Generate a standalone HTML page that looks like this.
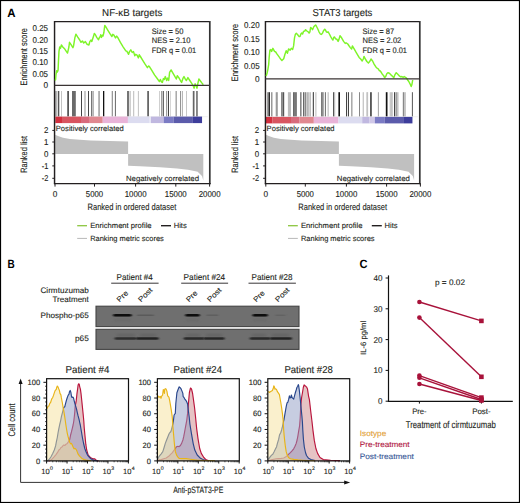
<!DOCTYPE html>
<html><head><meta charset="utf-8"><style>
html,body{margin:0;padding:0;background:#fff;}
body{width:520px;height:503px;overflow:hidden;}
svg{display:block;font-family:"Liberation Sans", sans-serif;}
</style></head><body>
<svg width="520" height="503" viewBox="0 0 520 503" text-rendering="geometricPrecision">
<rect x="0" y="0" width="520" height="503" fill="#fff"/>
<text x="7.30" y="16.90" font-size="12" fill="#000" textLength="8.30" lengthAdjust="spacingAndGlyphs" font-weight="bold">A</text>
<text x="102.10" y="15.50" font-size="10" fill="#231f20" stroke="#231f20" stroke-width="0.12" textLength="60.20" lengthAdjust="spacingAndGlyphs">NF-κB targets</text>
<text x="48.00" y="31.40" font-size="8.5" fill="#231f20" stroke="#231f20" stroke-width="0.12" text-anchor="end" textLength="15.50" lengthAdjust="spacingAndGlyphs">0.25</text>
<text x="48.00" y="42.70" font-size="8.5" fill="#231f20" stroke="#231f20" stroke-width="0.12" text-anchor="end" textLength="15.50" lengthAdjust="spacingAndGlyphs">0.20</text>
<text x="48.00" y="54.10" font-size="8.5" fill="#231f20" stroke="#231f20" stroke-width="0.12" text-anchor="end" textLength="15.50" lengthAdjust="spacingAndGlyphs">0.15</text>
<text x="48.00" y="65.40" font-size="8.5" fill="#231f20" stroke="#231f20" stroke-width="0.12" text-anchor="end" textLength="15.50" lengthAdjust="spacingAndGlyphs">0.10</text>
<text x="48.00" y="76.70" font-size="8.5" fill="#231f20" stroke="#231f20" stroke-width="0.12" text-anchor="end" textLength="15.50" lengthAdjust="spacingAndGlyphs">0.05</text>
<text x="48.00" y="88.20" font-size="8.5" fill="#231f20" stroke="#231f20" stroke-width="0.12" text-anchor="end" textLength="4.60" lengthAdjust="spacingAndGlyphs">0</text>
<rect x="55.30" y="91.00" width="1.40" height="25.70" fill="#9a9a9a"/>
<rect x="57.80" y="91.00" width="1.50" height="25.70" fill="#555"/>
<rect x="61.00" y="91.00" width="0.70" height="25.70" fill="#aaa"/>
<rect x="67.30" y="91.00" width="1.60" height="25.70" fill="#444"/>
<rect x="72.00" y="91.00" width="3.80" height="25.70" fill="#6a6a6a"/>
<rect x="81.00" y="91.00" width="1.00" height="25.70" fill="#444"/>
<rect x="84.20" y="91.00" width="1.60" height="25.70" fill="#bbb"/>
<rect x="88.00" y="91.00" width="1.00" height="25.70" fill="#444"/>
<rect x="91.00" y="91.00" width="1.00" height="25.70" fill="#777"/>
<rect x="92.40" y="91.00" width="1.30" height="25.70" fill="#999"/>
<rect x="98.50" y="91.00" width="1.10" height="25.70" fill="#777"/>
<rect x="103.00" y="91.00" width="1.30" height="25.70" fill="#111"/>
<rect x="111.70" y="91.00" width="1.30" height="25.70" fill="#999"/>
<rect x="114.90" y="91.00" width="1.00" height="25.70" fill="#666"/>
<rect x="127.10" y="91.00" width="1.80" height="25.70" fill="#666"/>
<rect x="129.50" y="91.00" width="1.20" height="25.70" fill="#bbb"/>
<rect x="133.20" y="91.00" width="1.00" height="25.70" fill="#bbb"/>
<rect x="137.90" y="91.00" width="0.90" height="25.70" fill="#bbb"/>
<rect x="147.20" y="91.00" width="1.80" height="25.70" fill="#666"/>
<rect x="159.20" y="91.00" width="0.70" height="25.70" fill="#bbb"/>
<rect x="161.00" y="91.00" width="0.80" height="25.70" fill="#888"/>
<rect x="162.70" y="91.00" width="1.10" height="25.70" fill="#444"/>
<rect x="166.00" y="91.00" width="0.80" height="25.70" fill="#888"/>
<rect x="167.90" y="91.00" width="1.10" height="25.70" fill="#444"/>
<rect x="170.40" y="91.00" width="0.60" height="25.70" fill="#bbb"/>
<rect x="175.60" y="91.00" width="1.10" height="25.70" fill="#888"/>
<rect x="180.00" y="91.00" width="0.90" height="25.70" fill="#888"/>
<rect x="181.90" y="91.00" width="0.80" height="25.70" fill="#999"/>
<rect x="186.20" y="91.00" width="0.80" height="25.70" fill="#bbb"/>
<rect x="192.80" y="91.00" width="1.70" height="25.70" fill="#666"/>
<rect x="196.10" y="91.00" width="1.70" height="25.70" fill="#777"/>
<line x1="54.55" y1="116.70" x2="207.80" y2="116.70" stroke="#e4e4e4" stroke-width="0.6"/>
<rect x="55.30" y="116.60" width="6.75" height="6.50" fill="#d2303e"/>
<rect x="62.00" y="116.60" width="19.05" height="6.50" fill="#d85560"/>
<rect x="81.00" y="116.60" width="8.05" height="6.50" fill="#d86b7c"/>
<rect x="89.00" y="116.60" width="13.75" height="6.50" fill="#e08890"/>
<rect x="102.70" y="116.60" width="25.25" height="6.50" fill="#e8b3d8"/>
<rect x="127.90" y="116.60" width="21.75" height="6.50" fill="#dcdcf0"/>
<rect x="149.60" y="116.60" width="1.45" height="6.50" fill="#e6e6f4"/>
<rect x="151.00" y="116.60" width="12.85" height="6.50" fill="#c0b8e0"/>
<rect x="163.80" y="116.60" width="9.85" height="6.50" fill="#7b7bc4"/>
<rect x="173.60" y="116.60" width="19.25" height="6.50" fill="#5b5bab"/>
<rect x="192.80" y="116.60" width="9.25" height="6.50" fill="#3d3d9b"/>
<polygon points="55.20,153.90 55.20,134.80 58.00,136.00 63.00,137.70 70.00,138.90 80.00,139.80 90.80,140.50 110.00,141.00 128.10,141.40 128.10,153.90" fill="#c0c0c0"/>
<polygon points="128.10,154.00 203.30,154.00 203.30,180.60 202.00,176.00 197.70,171.80 188.00,169.80 177.00,168.40 160.00,167.20 140.00,166.20 128.10,165.80" fill="#c0c0c0"/>
<text x="55.80" y="131.40" font-size="7.6" fill="#231f20" stroke="#231f20" stroke-width="0.12" textLength="68.00" lengthAdjust="spacingAndGlyphs">Positively correlated</text>
<text x="126.00" y="180.60" font-size="7.6" fill="#231f20" stroke="#231f20" stroke-width="0.12" textLength="73.00" lengthAdjust="spacingAndGlyphs">Negatively correlated</text>
<line x1="54.55" y1="21.60" x2="209.80" y2="21.60" stroke="#231f20" stroke-width="1.2"/>
<line x1="54.55" y1="21.00" x2="54.55" y2="184.20" stroke="#231f20" stroke-width="1.45"/>
<line x1="209.80" y1="21.00" x2="209.80" y2="184.20" stroke="#333" stroke-width="1.7"/>
<line x1="53.95" y1="183.60" x2="210.60" y2="183.60" stroke="#231f20" stroke-width="1.3"/>
<polyline points="55.30,80.50 55.60,79.50 56.00,74.70 56.70,70.70 57.40,72.00 58.10,70.00 58.50,60.50 59.00,51.10 59.70,47.00 60.50,48.40 61.40,45.00 62.80,47.00 64.80,49.10 67.50,53.10 68.90,47.00 69.50,42.30 70.90,44.30 72.90,47.70 73.60,45.70 74.90,37.60 75.90,34.20 77.60,36.90 79.70,40.00 81.00,42.30 82.40,40.90 83.70,43.00 85.40,41.60 87.10,44.30 88.90,45.00 89.80,41.60 90.90,40.10 91.80,41.50 92.70,38.80 93.60,36.10 94.30,33.40 95.40,34.80 96.70,37.40 98.50,39.70 99.40,37.40 100.30,36.50 100.70,34.80 101.40,37.40 102.30,35.20 103.00,36.10 103.90,32.50 104.30,28.90 104.80,25.40 105.70,26.70 107.90,30.30 110.10,33.90 111.90,36.50 112.80,34.30 113.70,34.80 115.50,37.90 116.70,36.10 117.70,37.40 120.40,42.40 123.10,46.80 125.80,50.90 126.80,51.20 128.60,54.30 129.50,51.60 130.80,49.80 132.20,52.50 133.50,51.60 134.80,55.70 135.70,54.30 137.10,55.20 138.40,57.90 139.30,54.80 140.70,57.00 142.90,60.60 145.10,64.20 147.40,67.70 148.70,65.90 149.60,66.80 151.80,70.40 154.50,74.90 157.20,78.50 159.40,81.60 160.30,79.40 161.00,81.00 161.70,82.00 162.40,82.40 163.40,78.60 164.30,79.50 165.30,76.60 166.70,80.50 167.70,78.10 168.70,80.50 169.60,72.30 171.10,69.90 172.50,72.30 174.40,75.70 176.30,79.00 177.30,75.70 178.80,77.60 180.70,81.00 181.60,82.40 183.10,78.10 184.00,76.60 185.50,79.50 186.40,80.50 187.90,77.60 189.80,80.50 191.70,83.40 193.20,85.80 194.10,88.20 195.10,83.80 196.10,85.80 197.00,88.20 198.00,82.90 198.90,79.00 200.40,81.00 201.80,82.90 203.30,84.80" stroke="#7ef428" stroke-width="1.45" fill="none" stroke-linejoin="round"/>
<line x1="54.55" y1="85.40" x2="209.80" y2="85.40" stroke="#3b3434" stroke-width="1.3"/>
<text x="151.70" y="34.30" font-size="8" fill="#231f20" stroke="#231f20" stroke-width="0.12" textLength="31.70" lengthAdjust="spacingAndGlyphs">Size = 50</text>
<text x="151.70" y="43.40" font-size="8" fill="#231f20" stroke="#231f20" stroke-width="0.12" textLength="38.80" lengthAdjust="spacingAndGlyphs">NES = 2.10</text>
<text x="151.70" y="52.50" font-size="8" fill="#231f20" stroke="#231f20" stroke-width="0.12" textLength="44.50" lengthAdjust="spacingAndGlyphs">FDR q = 0.01</text>
<line x1="52.30" y1="130.40" x2="54.55" y2="130.40" stroke="#231f20" stroke-width="1.0"/>
<text x="48.40" y="133.30" font-size="8.5" fill="#231f20" stroke="#231f20" stroke-width="0.12" text-anchor="end" textLength="4.40" lengthAdjust="spacingAndGlyphs">2</text>
<line x1="52.30" y1="142.00" x2="54.55" y2="142.00" stroke="#231f20" stroke-width="1.0"/>
<text x="48.40" y="144.90" font-size="8.5" fill="#231f20" stroke="#231f20" stroke-width="0.12" text-anchor="end" textLength="4.40" lengthAdjust="spacingAndGlyphs">1</text>
<line x1="52.30" y1="153.80" x2="54.55" y2="153.80" stroke="#231f20" stroke-width="1.0"/>
<text x="48.40" y="156.70" font-size="8.5" fill="#231f20" stroke="#231f20" stroke-width="0.12" text-anchor="end" textLength="4.40" lengthAdjust="spacingAndGlyphs">0</text>
<line x1="52.30" y1="165.90" x2="54.55" y2="165.90" stroke="#231f20" stroke-width="1.0"/>
<text x="48.40" y="168.80" font-size="8.5" fill="#231f20" stroke="#231f20" stroke-width="0.12" text-anchor="end" textLength="6.60" lengthAdjust="spacingAndGlyphs">-1</text>
<line x1="52.30" y1="178.30" x2="54.55" y2="178.30" stroke="#231f20" stroke-width="1.0"/>
<text x="48.40" y="181.20" font-size="8.5" fill="#231f20" stroke="#231f20" stroke-width="0.12" text-anchor="end" textLength="6.60" lengthAdjust="spacingAndGlyphs">-2</text>
<line x1="55.00" y1="183.60" x2="55.00" y2="186.60" stroke="#231f20" stroke-width="1.0"/>
<text x="55.00" y="196.80" font-size="8.6" fill="#231f20" stroke="#231f20" stroke-width="0.12" text-anchor="middle" textLength="4.60" lengthAdjust="spacingAndGlyphs">0</text>
<line x1="94.50" y1="183.60" x2="94.50" y2="186.60" stroke="#231f20" stroke-width="1.0"/>
<text x="94.50" y="196.80" font-size="8.6" fill="#231f20" stroke="#231f20" stroke-width="0.12" text-anchor="middle" textLength="17.30" lengthAdjust="spacingAndGlyphs">5000</text>
<line x1="135.60" y1="183.60" x2="135.60" y2="186.60" stroke="#231f20" stroke-width="1.0"/>
<text x="135.60" y="196.80" font-size="8.6" fill="#231f20" stroke="#231f20" stroke-width="0.12" text-anchor="middle" textLength="21.90" lengthAdjust="spacingAndGlyphs">10000</text>
<line x1="175.80" y1="183.60" x2="175.80" y2="186.60" stroke="#231f20" stroke-width="1.0"/>
<text x="175.80" y="196.80" font-size="8.6" fill="#231f20" stroke="#231f20" stroke-width="0.12" text-anchor="middle" textLength="21.90" lengthAdjust="spacingAndGlyphs">15000</text>
<line x1="209.60" y1="183.60" x2="209.60" y2="186.60" stroke="#231f20" stroke-width="1.0"/>
<text x="209.60" y="196.80" font-size="8.6" fill="#231f20" stroke="#231f20" stroke-width="0.12" text-anchor="middle" textLength="21.90" lengthAdjust="spacingAndGlyphs">20000</text>
<text x="87.50" y="210.00" font-size="9.2" fill="#231f20" stroke="#231f20" stroke-width="0.12" textLength="88.80" lengthAdjust="spacingAndGlyphs">Ranked in ordered dataset</text>
<text x="27.40" y="56.80" font-size="9.4" fill="#231f20" stroke="#231f20" stroke-width="0.12" text-anchor="middle" textLength="57.50" lengthAdjust="spacingAndGlyphs" transform="rotate(-90 27.40 56.80)">Enrichment score</text>
<text x="26.90" y="154.40" font-size="9.2" fill="#231f20" stroke="#231f20" stroke-width="0.12" text-anchor="middle" textLength="36.70" lengthAdjust="spacingAndGlyphs" transform="rotate(-90 26.90 154.40)">Ranked list</text>
<line x1="77.20" y1="225.70" x2="87.00" y2="225.70" stroke="#8cc63f" stroke-width="1.3"/>
<text x="90.20" y="228.00" font-size="7.6" fill="#231f20" stroke="#231f20" stroke-width="0.12" textLength="61.40" lengthAdjust="spacingAndGlyphs">Enrichment profile</text>
<line x1="161.00" y1="225.70" x2="171.00" y2="225.70" stroke="#231f20" stroke-width="1.4"/>
<text x="173.70" y="228.00" font-size="7.6" fill="#231f20" stroke="#231f20" stroke-width="0.12" textLength="13.00" lengthAdjust="spacingAndGlyphs">Hits</text>
<line x1="77.20" y1="238.40" x2="87.00" y2="238.40" stroke="#b8b8b8" stroke-width="1.0"/>
<text x="90.20" y="240.60" font-size="7.6" fill="#231f20" stroke="#231f20" stroke-width="0.12" textLength="73.60" lengthAdjust="spacingAndGlyphs">Ranking metric scores</text>
<text x="312.50" y="15.50" font-size="10" fill="#231f20" stroke="#231f20" stroke-width="0.12" textLength="59.80" lengthAdjust="spacingAndGlyphs">STAT3 targets</text>
<text x="259.60" y="28.10" font-size="8.5" fill="#231f20" stroke="#231f20" stroke-width="0.12" text-anchor="end" textLength="15.50" lengthAdjust="spacingAndGlyphs">0.20</text>
<text x="259.60" y="41.60" font-size="8.5" fill="#231f20" stroke="#231f20" stroke-width="0.12" text-anchor="end" textLength="15.50" lengthAdjust="spacingAndGlyphs">0.15</text>
<text x="259.60" y="55.10" font-size="8.5" fill="#231f20" stroke="#231f20" stroke-width="0.12" text-anchor="end" textLength="15.50" lengthAdjust="spacingAndGlyphs">0.10</text>
<text x="259.60" y="68.60" font-size="8.5" fill="#231f20" stroke="#231f20" stroke-width="0.12" text-anchor="end" textLength="15.50" lengthAdjust="spacingAndGlyphs">0.05</text>
<text x="259.60" y="81.90" font-size="8.5" fill="#231f20" stroke="#231f20" stroke-width="0.12" text-anchor="end" textLength="4.60" lengthAdjust="spacingAndGlyphs">0</text>
<rect x="267.20" y="92.20" width="1.10" height="24.50" fill="#888"/>
<rect x="268.50" y="92.20" width="1.40" height="24.50" fill="#111"/>
<rect x="271.00" y="92.20" width="1.50" height="24.50" fill="#999"/>
<rect x="275.70" y="92.20" width="2.10" height="24.50" fill="#999"/>
<rect x="281.00" y="92.20" width="1.60" height="24.50" fill="#888"/>
<rect x="282.60" y="92.20" width="1.60" height="24.50" fill="#555"/>
<rect x="287.90" y="92.20" width="3.10" height="24.50" fill="#bbb"/>
<rect x="293.20" y="92.20" width="1.50" height="24.50" fill="#444"/>
<rect x="294.70" y="92.20" width="2.20" height="24.50" fill="#777"/>
<rect x="300.00" y="92.20" width="1.60" height="24.50" fill="#888"/>
<rect x="303.20" y="92.20" width="1.10" height="24.50" fill="#444"/>
<rect x="304.80" y="92.20" width="1.60" height="24.50" fill="#888"/>
<rect x="307.40" y="92.20" width="1.10" height="24.50" fill="#888"/>
<rect x="309.60" y="92.20" width="1.00" height="24.50" fill="#999"/>
<rect x="312.70" y="92.20" width="1.10" height="24.50" fill="#777"/>
<rect x="315.40" y="92.20" width="1.00" height="24.50" fill="#bbb"/>
<rect x="313.00" y="92.20" width="1.00" height="24.50" fill="#555"/>
<rect x="321.30" y="92.20" width="1.00" height="24.50" fill="#444"/>
<rect x="322.30" y="92.20" width="1.30" height="24.50" fill="#777"/>
<rect x="324.90" y="92.20" width="0.80" height="24.50" fill="#444"/>
<rect x="327.60" y="92.20" width="1.10" height="24.50" fill="#bbb"/>
<rect x="333.10" y="92.20" width="1.10" height="24.50" fill="#444"/>
<rect x="334.20" y="92.20" width="1.00" height="24.50" fill="#bbb"/>
<rect x="338.40" y="92.20" width="1.60" height="24.50" fill="#111"/>
<rect x="346.00" y="92.20" width="1.00" height="24.50" fill="#444"/>
<rect x="347.90" y="92.20" width="1.10" height="24.50" fill="#444"/>
<rect x="351.30" y="92.20" width="1.10" height="24.50" fill="#888"/>
<rect x="359.00" y="92.20" width="1.00" height="24.50" fill="#888"/>
<rect x="362.70" y="92.20" width="1.10" height="24.50" fill="#bbb"/>
<rect x="366.40" y="92.20" width="1.10" height="24.50" fill="#bbb"/>
<rect x="367.20" y="92.20" width="0.90" height="24.50" fill="#bbb"/>
<rect x="370.30" y="92.20" width="1.30" height="24.50" fill="#111"/>
<rect x="377.90" y="92.20" width="0.80" height="24.50" fill="#888"/>
<rect x="385.80" y="92.20" width="1.70" height="24.50" fill="#111"/>
<rect x="389.70" y="92.20" width="1.10" height="24.50" fill="#bbb"/>
<rect x="391.50" y="92.20" width="0.90" height="24.50" fill="#888"/>
<rect x="394.00" y="92.20" width="1.20" height="24.50" fill="#444"/>
<rect x="395.70" y="92.20" width="1.10" height="24.50" fill="#888"/>
<rect x="397.30" y="92.20" width="1.10" height="24.50" fill="#aaa"/>
<rect x="402.80" y="92.20" width="1.70" height="24.50" fill="#888"/>
<rect x="405.00" y="92.20" width="0.80" height="24.50" fill="#bbb"/>
<rect x="411.90" y="92.20" width="0.90" height="24.50" fill="#444"/>
<line x1="265.45" y1="116.70" x2="417.80" y2="116.70" stroke="#e4e4e4" stroke-width="0.6"/>
<rect x="265.90" y="116.90" width="6.65" height="6.50" fill="#d2303e"/>
<rect x="272.50" y="116.90" width="18.55" height="6.50" fill="#d85560"/>
<rect x="291.00" y="116.90" width="8.55" height="6.50" fill="#d86b7c"/>
<rect x="299.50" y="116.90" width="14.35" height="6.50" fill="#e08890"/>
<rect x="313.80" y="116.90" width="24.65" height="6.50" fill="#e8b3d8"/>
<rect x="338.40" y="116.90" width="23.85" height="6.50" fill="#dcdcf0"/>
<rect x="362.20" y="116.90" width="7.25" height="6.50" fill="#c0b8e0"/>
<rect x="369.40" y="116.90" width="5.55" height="6.50" fill="#d0c8e8"/>
<rect x="374.90" y="116.90" width="9.85" height="6.50" fill="#7b7bc4"/>
<rect x="384.70" y="116.90" width="19.25" height="6.50" fill="#5b5bab"/>
<rect x="403.90" y="116.90" width="8.55" height="6.50" fill="#3d3d9b"/>
<polygon points="266.00,153.90 266.00,134.80 268.80,136.00 273.80,137.70 280.80,138.90 290.80,139.80 301.60,140.50 320.80,141.00 338.90,141.40 338.90,153.90" fill="#c0c0c0"/>
<polygon points="338.90,154.00 414.10,154.00 414.10,180.60 412.80,176.00 408.50,171.80 398.80,169.80 387.80,168.40 370.80,167.20 350.80,166.20 338.90,165.80" fill="#c0c0c0"/>
<text x="266.60" y="131.40" font-size="7.6" fill="#231f20" stroke="#231f20" stroke-width="0.12" textLength="68.00" lengthAdjust="spacingAndGlyphs">Positively correlated</text>
<text x="336.80" y="180.60" font-size="7.6" fill="#231f20" stroke="#231f20" stroke-width="0.12" textLength="73.00" lengthAdjust="spacingAndGlyphs">Negatively correlated</text>
<line x1="265.45" y1="21.60" x2="419.80" y2="21.60" stroke="#231f20" stroke-width="1.2"/>
<line x1="265.45" y1="21.00" x2="265.45" y2="184.20" stroke="#231f20" stroke-width="1.45"/>
<line x1="419.80" y1="21.00" x2="419.80" y2="184.20" stroke="#333" stroke-width="1.7"/>
<line x1="264.85" y1="183.60" x2="420.60" y2="183.60" stroke="#231f20" stroke-width="1.3"/>
<polyline points="266.20,76.00 267.10,73.00 267.90,69.30 268.70,64.30 269.20,57.00 269.90,50.20 270.80,49.60 271.60,51.40 272.90,48.30 274.50,51.40 275.70,52.00 276.90,53.90 278.20,55.70 280.00,58.20 281.90,60.60 283.70,58.80 284.90,54.50 286.20,50.80 287.40,53.30 288.60,48.90 290.10,50.20 291.30,48.30 292.60,49.60 293.60,45.90 294.50,37.90 295.40,34.20 296.30,33.30 297.50,34.50 299.10,36.60 300.00,36.60 300.90,34.00 301.70,33.10 302.60,34.00 303.50,31.40 304.80,31.00 305.60,29.70 306.90,31.00 308.20,31.80 309.10,33.10 309.90,31.80 310.60,27.50 311.20,27.90 312.50,29.70 313.80,26.70 314.70,25.80 315.60,24.90 316.40,26.20 317.70,28.80 319.00,31.80 320.30,34.00 321.50,34.40 322.50,33.10 323.40,31.00 324.70,29.20 325.50,30.10 326.40,31.80 327.20,32.30 328.10,31.80 329.40,34.00 330.70,36.60 332.00,38.80 332.90,40.10 333.70,37.50 334.60,37.00 335.60,38.80 336.80,39.20 338.10,41.40 338.90,39.60 340.00,35.70 341.60,37.80 343.60,41.40 345.20,43.40 346.20,42.90 347.80,44.00 348.80,45.50 350.30,47.60 351.60,49.10 352.40,46.00 354.00,48.60 356.00,52.20 357.60,54.80 359.10,57.40 360.70,59.00 362.20,61.00 363.30,59.00 364.00,56.40 365.30,59.00 366.90,61.50 368.40,63.10 370.00,61.00 371.00,59.00 372.60,61.00 374.10,64.10 375.70,66.70 377.20,68.30 378.30,68.80 379.30,70.80 380.00,70.80 381.20,72.30 382.30,74.20 383.50,75.40 384.60,77.70 385.80,76.20 386.90,73.50 388.10,72.70 389.20,73.10 390.40,74.20 391.50,75.40 392.70,76.50 393.80,77.70 395.00,74.60 396.20,72.70 397.30,73.80 398.50,75.00 399.60,76.20 400.80,76.90 401.90,76.50 403.10,77.30 404.20,76.50 405.40,77.30 406.50,78.10 407.70,80.00 408.80,81.50 410.00,83.80 411.20,86.50 411.90,84.60 412.70,80.00" stroke="#7ef428" stroke-width="1.45" fill="none" stroke-linejoin="round"/>
<line x1="265.45" y1="78.80" x2="419.80" y2="78.80" stroke="#3b3434" stroke-width="1.3"/>
<text x="362.50" y="34.30" font-size="8" fill="#231f20" stroke="#231f20" stroke-width="0.12" textLength="31.70" lengthAdjust="spacingAndGlyphs">Size = 87</text>
<text x="362.50" y="43.40" font-size="8" fill="#231f20" stroke="#231f20" stroke-width="0.12" textLength="38.80" lengthAdjust="spacingAndGlyphs">NES = 2.02</text>
<text x="362.50" y="52.50" font-size="8" fill="#231f20" stroke="#231f20" stroke-width="0.12" textLength="44.50" lengthAdjust="spacingAndGlyphs">FDR q = 0.01</text>
<line x1="263.10" y1="130.40" x2="265.45" y2="130.40" stroke="#231f20" stroke-width="1.0"/>
<text x="259.20" y="133.30" font-size="8.5" fill="#231f20" stroke="#231f20" stroke-width="0.12" text-anchor="end" textLength="4.40" lengthAdjust="spacingAndGlyphs">2</text>
<line x1="263.10" y1="142.00" x2="265.45" y2="142.00" stroke="#231f20" stroke-width="1.0"/>
<text x="259.20" y="144.90" font-size="8.5" fill="#231f20" stroke="#231f20" stroke-width="0.12" text-anchor="end" textLength="4.40" lengthAdjust="spacingAndGlyphs">1</text>
<line x1="263.10" y1="153.80" x2="265.45" y2="153.80" stroke="#231f20" stroke-width="1.0"/>
<text x="259.20" y="156.70" font-size="8.5" fill="#231f20" stroke="#231f20" stroke-width="0.12" text-anchor="end" textLength="4.40" lengthAdjust="spacingAndGlyphs">0</text>
<line x1="263.10" y1="165.90" x2="265.45" y2="165.90" stroke="#231f20" stroke-width="1.0"/>
<text x="259.20" y="168.80" font-size="8.5" fill="#231f20" stroke="#231f20" stroke-width="0.12" text-anchor="end" textLength="6.60" lengthAdjust="spacingAndGlyphs">-1</text>
<line x1="263.10" y1="178.30" x2="265.45" y2="178.30" stroke="#231f20" stroke-width="1.0"/>
<text x="259.20" y="181.20" font-size="8.5" fill="#231f20" stroke="#231f20" stroke-width="0.12" text-anchor="end" textLength="6.60" lengthAdjust="spacingAndGlyphs">-2</text>
<line x1="265.80" y1="183.60" x2="265.80" y2="186.60" stroke="#231f20" stroke-width="1.0"/>
<text x="265.80" y="196.80" font-size="8.6" fill="#231f20" stroke="#231f20" stroke-width="0.12" text-anchor="middle" textLength="4.60" lengthAdjust="spacingAndGlyphs">0</text>
<line x1="305.30" y1="183.60" x2="305.30" y2="186.60" stroke="#231f20" stroke-width="1.0"/>
<text x="305.30" y="196.80" font-size="8.6" fill="#231f20" stroke="#231f20" stroke-width="0.12" text-anchor="middle" textLength="17.30" lengthAdjust="spacingAndGlyphs">5000</text>
<line x1="346.40" y1="183.60" x2="346.40" y2="186.60" stroke="#231f20" stroke-width="1.0"/>
<text x="346.40" y="196.80" font-size="8.6" fill="#231f20" stroke="#231f20" stroke-width="0.12" text-anchor="middle" textLength="21.90" lengthAdjust="spacingAndGlyphs">10000</text>
<line x1="386.60" y1="183.60" x2="386.60" y2="186.60" stroke="#231f20" stroke-width="1.0"/>
<text x="386.60" y="196.80" font-size="8.6" fill="#231f20" stroke="#231f20" stroke-width="0.12" text-anchor="middle" textLength="21.90" lengthAdjust="spacingAndGlyphs">15000</text>
<line x1="420.40" y1="183.60" x2="420.40" y2="186.60" stroke="#231f20" stroke-width="1.0"/>
<text x="420.40" y="196.80" font-size="8.6" fill="#231f20" stroke="#231f20" stroke-width="0.12" text-anchor="middle" textLength="21.90" lengthAdjust="spacingAndGlyphs">20000</text>
<text x="298.30" y="210.00" font-size="9.2" fill="#231f20" stroke="#231f20" stroke-width="0.12" textLength="88.80" lengthAdjust="spacingAndGlyphs">Ranked in ordered dataset</text>
<text x="238.20" y="52.50" font-size="9.4" fill="#231f20" stroke="#231f20" stroke-width="0.12" text-anchor="middle" textLength="57.50" lengthAdjust="spacingAndGlyphs" transform="rotate(-90 238.20 52.50)">Enrichment score</text>
<text x="237.70" y="154.40" font-size="9.2" fill="#231f20" stroke="#231f20" stroke-width="0.12" text-anchor="middle" textLength="36.70" lengthAdjust="spacingAndGlyphs" transform="rotate(-90 237.70 154.40)">Ranked list</text>
<line x1="288.00" y1="225.70" x2="297.80" y2="225.70" stroke="#8cc63f" stroke-width="1.3"/>
<text x="301.00" y="228.00" font-size="7.6" fill="#231f20" stroke="#231f20" stroke-width="0.12" textLength="61.40" lengthAdjust="spacingAndGlyphs">Enrichment profile</text>
<line x1="371.80" y1="225.70" x2="381.80" y2="225.70" stroke="#231f20" stroke-width="1.4"/>
<text x="384.50" y="228.00" font-size="7.6" fill="#231f20" stroke="#231f20" stroke-width="0.12" textLength="13.00" lengthAdjust="spacingAndGlyphs">Hits</text>
<line x1="288.00" y1="238.40" x2="297.80" y2="238.40" stroke="#b8b8b8" stroke-width="1.0"/>
<text x="301.00" y="240.60" font-size="7.6" fill="#231f20" stroke="#231f20" stroke-width="0.12" textLength="73.60" lengthAdjust="spacingAndGlyphs">Ranking metric scores</text>
<text x="7.50" y="267.80" font-size="12" fill="#000" textLength="7.20" lengthAdjust="spacingAndGlyphs" font-weight="bold">B</text>
<text x="88.80" y="292.50" font-size="8" fill="#231f20" stroke="#231f20" stroke-width="0.12" text-anchor="end" textLength="48.30" lengthAdjust="spacingAndGlyphs">Cirmtuzumab</text>
<text x="88.80" y="302.00" font-size="8" fill="#231f20" stroke="#231f20" stroke-width="0.12" text-anchor="end" textLength="36.30" lengthAdjust="spacingAndGlyphs">Treatment</text>
<text x="88.80" y="318.00" font-size="8" fill="#231f20" stroke="#231f20" stroke-width="0.12" text-anchor="end" textLength="48.30" lengthAdjust="spacingAndGlyphs">Phospho-p65</text>
<text x="88.80" y="341.30" font-size="8" fill="#231f20" stroke="#231f20" stroke-width="0.12" text-anchor="end" textLength="13.80" lengthAdjust="spacingAndGlyphs">p65</text>
<text x="116.60" y="280.00" font-size="8.5" fill="#231f20" stroke="#231f20" stroke-width="0.12" textLength="36.20" lengthAdjust="spacingAndGlyphs">Patient #4</text>
<line x1="111.20" y1="283.20" x2="158.60" y2="283.20" stroke="#231f20" stroke-width="0.9"/>
<text x="119.60" y="302.60" font-size="7.3" fill="#231f20" stroke="#231f20" stroke-width="0.12" textLength="12.80" lengthAdjust="spacingAndGlyphs" transform="rotate(-45 119.60 302.60)">Pre</text>
<text x="140.90" y="302.60" font-size="7.3" fill="#231f20" stroke="#231f20" stroke-width="0.12" textLength="17.00" lengthAdjust="spacingAndGlyphs" transform="rotate(-45 140.90 302.60)">Post</text>
<text x="183.60" y="280.00" font-size="8.5" fill="#231f20" stroke="#231f20" stroke-width="0.12" textLength="41.60" lengthAdjust="spacingAndGlyphs">Patient #24</text>
<line x1="181.20" y1="283.20" x2="228.10" y2="283.20" stroke="#231f20" stroke-width="0.9"/>
<text x="188.90" y="302.60" font-size="7.3" fill="#231f20" stroke="#231f20" stroke-width="0.12" textLength="12.80" lengthAdjust="spacingAndGlyphs" transform="rotate(-45 188.90 302.60)">Pre</text>
<text x="210.00" y="302.60" font-size="7.3" fill="#231f20" stroke="#231f20" stroke-width="0.12" textLength="17.00" lengthAdjust="spacingAndGlyphs" transform="rotate(-45 210.00 302.60)">Post</text>
<text x="251.60" y="280.00" font-size="8.5" fill="#231f20" stroke="#231f20" stroke-width="0.12" textLength="40.90" lengthAdjust="spacingAndGlyphs">Patient #28</text>
<line x1="248.50" y1="283.20" x2="295.90" y2="283.20" stroke="#231f20" stroke-width="0.9"/>
<text x="256.20" y="302.60" font-size="7.3" fill="#231f20" stroke="#231f20" stroke-width="0.12" textLength="12.80" lengthAdjust="spacingAndGlyphs" transform="rotate(-45 256.20 302.60)">Pre</text>
<text x="278.00" y="302.60" font-size="7.3" fill="#231f20" stroke="#231f20" stroke-width="0.12" textLength="17.00" lengthAdjust="spacingAndGlyphs" transform="rotate(-45 278.00 302.60)">Post</text>
<defs><filter id="bl" x="-50%" y="-300%" width="200%" height="700%"><feGaussianBlur stdDeviation="0.8 0.5"/></filter><filter id="bl2" x="-50%" y="-300%" width="200%" height="700%"><feGaussianBlur stdDeviation="1.6 1.0"/></filter></defs>
<rect x="96.00" y="306.20" width="203.00" height="20.40" fill="#6f6f6f" stroke="#444" stroke-width="1.1"/>
<rect x="96.00" y="329.30" width="203.00" height="20.10" fill="#6f6f6f" stroke="#444" stroke-width="1.1"/>
<rect x="113.20" y="314.00" width="18.40" height="2.6" rx="1.3" fill="#0a0a0a" filter="url(#bl)"/>
<rect x="136.70" y="314.50" width="17.50" height="1.6" rx="1.3" fill="#5a5a5a" filter="url(#bl)"/>
<rect x="185.30" y="314.00" width="14.40" height="2.6" rx="1.3" fill="#0a0a0a" filter="url(#bl)"/>
<rect x="206.40" y="314.55" width="12.10" height="1.5" rx="1.3" fill="#5e5e5e" filter="url(#bl)"/>
<rect x="252.60" y="314.00" width="15.10" height="2.6" rx="1.3" fill="#0a0a0a" filter="url(#bl)"/>
<rect x="275.00" y="314.60" width="10.80" height="1.4" rx="1.3" fill="#626262" filter="url(#bl)"/>
<rect x="114.00" y="319.6" width="17.00" height="1.2" fill="#646464" filter="url(#bl2)"/>
<rect x="186.00" y="319.6" width="13.00" height="1.2" fill="#646464" filter="url(#bl2)"/>
<rect x="253.00" y="319.6" width="14.00" height="1.2" fill="#646464" filter="url(#bl2)"/>
<rect x="117.00" y="334.2" width="18.00" height="2.0" fill="#606060" filter="url(#bl2)"/>
<rect x="140.00" y="334.2" width="16.00" height="2.0" fill="#606060" filter="url(#bl2)"/>
<rect x="186.00" y="334.2" width="14.00" height="2.0" fill="#606060" filter="url(#bl2)"/>
<rect x="206.00" y="334.2" width="16.00" height="2.0" fill="#606060" filter="url(#bl2)"/>
<rect x="252.00" y="334.2" width="14.00" height="2.0" fill="#606060" filter="url(#bl2)"/>
<rect x="272.00" y="334.2" width="17.00" height="2.0" fill="#606060" filter="url(#bl2)"/>
<rect x="114.50" y="337.3" width="22.00" height="2.4" rx="1.2" fill="#2e2e2e" filter="url(#bl)"/>
<rect x="136.00" y="337.3" width="22.60" height="2.4" rx="1.2" fill="#222" filter="url(#bl)"/>
<rect x="183.60" y="337.3" width="20.40" height="2.4" rx="1.2" fill="#2a2a2a" filter="url(#bl)"/>
<rect x="203.50" y="337.3" width="21.00" height="2.4" rx="1.2" fill="#262626" filter="url(#bl)"/>
<rect x="249.70" y="337.3" width="20.80" height="2.4" rx="1.2" fill="#2a2a2a" filter="url(#bl)"/>
<rect x="270.00" y="337.3" width="21.80" height="2.4" rx="1.2" fill="#242424" filter="url(#bl)"/>
<text x="65.50" y="373.00" font-size="10" fill="#231f20" stroke="#231f20" stroke-width="0.12" textLength="43.80" lengthAdjust="spacingAndGlyphs">Patient #4</text>
<polygon points="48.50,460.90 48.50,461.00 49.30,460.90 51.00,460.10 52.70,458.40 54.30,456.70 56.00,454.60 57.70,452.10 58.90,450.00 60.20,448.80 61.00,447.50 62.30,446.70 63.50,445.00 64.80,445.50 66.00,444.20 67.30,443.40 68.50,441.70 69.80,439.20 70.60,435.00 71.50,431.70 72.30,428.30 73.10,425.00 73.80,421.00 74.30,416.70 74.80,411.70 75.20,405.90 75.60,404.20 76.20,400.90 76.90,394.20 77.60,389.20 78.10,385.00 78.70,383.80 79.20,384.20 79.80,387.10 80.40,389.20 81.10,394.20 81.70,400.00 82.30,405.90 82.90,411.70 83.40,416.70 83.80,421.00 84.20,427.50 85.00,436.00 85.80,444.20 86.70,450.00 87.90,454.20 89.60,456.70 91.70,458.40 93.40,458.80 94.60,458.80 95.90,459.90 97.50,460.70 99.00,461.00 99.00,460.90" fill="#cd8789" fill-opacity="0.5"/>
<polyline points="48.50,461.00 49.30,460.90 51.00,460.10 52.70,458.40 54.30,456.70 56.00,454.60 57.70,452.10 58.90,450.00 60.20,448.80 61.00,447.50 62.30,446.70 63.50,445.00 64.80,445.50 66.00,444.20 67.30,443.40 68.50,441.70 69.80,439.20 70.60,435.00 71.50,431.70 72.30,428.30 73.10,425.00 73.80,421.00 74.30,416.70 74.80,411.70 75.20,405.90 75.60,404.20 76.20,400.90 76.90,394.20 77.60,389.20 78.10,385.00 78.70,383.80 79.20,384.20 79.80,387.10 80.40,389.20 81.10,394.20 81.70,400.00 82.30,405.90 82.90,411.70 83.40,416.70 83.80,421.00 84.20,427.50 85.00,436.00 85.80,444.20 86.70,450.00 87.90,454.20 89.60,456.70 91.70,458.40 93.40,458.80 94.60,458.80 95.90,459.90 97.50,460.70 99.00,461.00" stroke="#b9143c" stroke-width="1.15" fill="none" stroke-linejoin="round"/>
<polygon points="47.20,460.90 47.20,461.00 47.70,460.90 49.30,459.20 51.00,456.70 52.70,453.40 54.30,450.00 55.60,445.90 56.40,441.70 57.30,437.50 58.10,432.50 58.90,428.30 59.80,424.20 60.60,420.80 61.40,416.70 62.70,411.70 63.70,407.50 64.80,406.70 65.60,403.40 66.50,400.00 67.30,397.50 68.10,395.40 69.00,394.20 69.50,391.70 70.20,390.40 70.90,392.50 71.50,396.30 72.00,397.50 72.90,397.10 73.50,397.90 74.20,400.90 74.80,403.40 75.60,405.90 76.50,408.80 77.30,412.60 78.10,415.90 79.00,419.20 79.60,422.00 80.30,425.00 81.40,431.50 82.40,437.50 83.60,443.50 84.80,448.50 85.90,451.50 87.50,455.10 89.20,457.10 90.90,458.80 92.90,459.90 95.90,460.70 98.00,461.00 98.00,460.90" fill="#8f9bc3" fill-opacity="0.5"/>
<polyline points="47.20,461.00 47.70,460.90 49.30,459.20 51.00,456.70 52.70,453.40 54.30,450.00 55.60,445.90 56.40,441.70 57.30,437.50 58.10,432.50 58.90,428.30 59.80,424.20 60.60,420.80 61.40,416.70 62.70,411.70 63.70,407.50 64.80,406.70 65.60,403.40 66.50,400.00 67.30,397.50 68.10,395.40 69.00,394.20 69.50,391.70 70.20,390.40 70.90,392.50 71.50,396.30 72.00,397.50 72.90,397.10 73.50,397.90 74.20,400.90 74.80,403.40 75.60,405.90 76.50,408.80 77.30,412.60 78.10,415.90 79.00,419.20 79.60,422.00 80.30,425.00 81.40,431.50 82.40,437.50 83.60,443.50 84.80,448.50 85.90,451.50 87.50,455.10 89.20,457.10 90.90,458.80 92.90,459.90 95.90,460.70 98.00,461.00" stroke="#28468c" stroke-width="1.15" fill="none" stroke-linejoin="round"/>
<polygon points="46.80,460.90 46.80,408.50 47.30,408.00 48.10,406.30 48.90,405.90 49.80,403.40 50.60,402.50 51.20,400.50 51.80,398.80 52.70,397.50 53.50,395.40 54.30,392.90 55.00,390.90 55.60,390.00 56.20,389.60 56.70,387.50 57.30,386.00 58.10,387.10 58.70,388.80 59.40,390.40 60.00,393.40 60.90,394.90 61.40,397.90 62.30,402.50 63.10,407.50 63.90,411.70 64.60,415.90 65.20,420.00 65.90,425.00 66.70,430.00 67.40,433.80 68.10,436.70 69.00,440.00 69.80,442.50 70.60,443.80 71.50,443.40 72.30,445.00 73.10,447.10 74.00,448.80 74.80,448.40 75.60,448.80 76.50,450.00 77.30,452.10 78.10,454.20 79.40,455.90 80.60,457.10 81.90,458.40 83.10,459.10 84.40,459.60 86.00,460.10 88.00,460.40 91.00,460.70 91.00,460.90" fill="#f5e19b" fill-opacity="0.5"/>
<polyline points="46.80,408.50 47.30,408.00 48.10,406.30 48.90,405.90 49.80,403.40 50.60,402.50 51.20,400.50 51.80,398.80 52.70,397.50 53.50,395.40 54.30,392.90 55.00,390.90 55.60,390.00 56.20,389.60 56.70,387.50 57.30,386.00 58.10,387.10 58.70,388.80 59.40,390.40 60.00,393.40 60.90,394.90 61.40,397.90 62.30,402.50 63.10,407.50 63.90,411.70 64.60,415.90 65.20,420.00 65.90,425.00 66.70,430.00 67.40,433.80 68.10,436.70 69.00,440.00 69.80,442.50 70.60,443.80 71.50,443.40 72.30,445.00 73.10,447.10 74.00,448.80 74.80,448.40 75.60,448.80 76.50,450.00 77.30,452.10 78.10,454.20 79.40,455.90 80.60,457.10 81.90,458.40 83.10,459.10 84.40,459.60 86.00,460.10 88.00,460.40 91.00,460.70" stroke="#e8b418" stroke-width="1.15" fill="none" stroke-linejoin="round"/>
<rect x="46.60" y="378.70" width="81.90" height="82.20" fill="none" stroke="#111" stroke-width="1.2"/>
<line x1="43.40" y1="460.90" x2="46.60" y2="460.90" stroke="#111" stroke-width="1.0"/>
<text x="40.20" y="463.65" font-size="7.8" fill="#231f20" stroke="#231f20" stroke-width="0.12" text-anchor="end" textLength="4.20" lengthAdjust="spacingAndGlyphs">0</text>
<line x1="45.10" y1="456.97" x2="46.60" y2="456.97" stroke="#111" stroke-width="0.8"/>
<line x1="45.10" y1="453.04" x2="46.60" y2="453.04" stroke="#111" stroke-width="0.8"/>
<line x1="45.10" y1="449.11" x2="46.60" y2="449.11" stroke="#111" stroke-width="0.8"/>
<line x1="43.40" y1="445.18" x2="46.60" y2="445.18" stroke="#111" stroke-width="1.0"/>
<text x="40.20" y="447.93" font-size="7.8" fill="#231f20" stroke="#231f20" stroke-width="0.12" text-anchor="end" textLength="8.40" lengthAdjust="spacingAndGlyphs">20</text>
<line x1="45.10" y1="441.25" x2="46.60" y2="441.25" stroke="#111" stroke-width="0.8"/>
<line x1="45.10" y1="437.32" x2="46.60" y2="437.32" stroke="#111" stroke-width="0.8"/>
<line x1="45.10" y1="433.39" x2="46.60" y2="433.39" stroke="#111" stroke-width="0.8"/>
<line x1="43.40" y1="429.46" x2="46.60" y2="429.46" stroke="#111" stroke-width="1.0"/>
<text x="40.20" y="432.21" font-size="7.8" fill="#231f20" stroke="#231f20" stroke-width="0.12" text-anchor="end" textLength="8.40" lengthAdjust="spacingAndGlyphs">40</text>
<line x1="45.10" y1="425.53" x2="46.60" y2="425.53" stroke="#111" stroke-width="0.8"/>
<line x1="45.10" y1="421.60" x2="46.60" y2="421.60" stroke="#111" stroke-width="0.8"/>
<line x1="45.10" y1="417.67" x2="46.60" y2="417.67" stroke="#111" stroke-width="0.8"/>
<line x1="43.40" y1="413.74" x2="46.60" y2="413.74" stroke="#111" stroke-width="1.0"/>
<text x="40.20" y="416.49" font-size="7.8" fill="#231f20" stroke="#231f20" stroke-width="0.12" text-anchor="end" textLength="8.40" lengthAdjust="spacingAndGlyphs">60</text>
<line x1="45.10" y1="409.81" x2="46.60" y2="409.81" stroke="#111" stroke-width="0.8"/>
<line x1="45.10" y1="405.88" x2="46.60" y2="405.88" stroke="#111" stroke-width="0.8"/>
<line x1="45.10" y1="401.95" x2="46.60" y2="401.95" stroke="#111" stroke-width="0.8"/>
<line x1="43.40" y1="398.02" x2="46.60" y2="398.02" stroke="#111" stroke-width="1.0"/>
<text x="40.20" y="400.77" font-size="7.8" fill="#231f20" stroke="#231f20" stroke-width="0.12" text-anchor="end" textLength="8.40" lengthAdjust="spacingAndGlyphs">80</text>
<line x1="45.10" y1="394.09" x2="46.60" y2="394.09" stroke="#111" stroke-width="0.8"/>
<line x1="45.10" y1="390.16" x2="46.60" y2="390.16" stroke="#111" stroke-width="0.8"/>
<line x1="45.10" y1="386.23" x2="46.60" y2="386.23" stroke="#111" stroke-width="0.8"/>
<line x1="43.40" y1="382.30" x2="46.60" y2="382.30" stroke="#111" stroke-width="1.0"/>
<text x="40.20" y="385.05" font-size="7.8" fill="#231f20" stroke="#231f20" stroke-width="0.12" text-anchor="end" textLength="12.60" lengthAdjust="spacingAndGlyphs">100</text>
<line x1="46.60" y1="460.90" x2="46.60" y2="463.50" stroke="#111" stroke-width="1.0"/>
<text x="41.20" y="473.80" font-size="7.6" fill="#231f20" stroke="#231f20" stroke-width="0.12" textLength="8.40" lengthAdjust="spacingAndGlyphs">10</text>
<text x="49.90" y="470.30" font-size="5.2" fill="#231f20" stroke="#231f20" stroke-width="0.12">0</text>
<line x1="52.76" y1="460.90" x2="52.76" y2="462.30" stroke="#111" stroke-width="0.7"/>
<line x1="56.36" y1="460.90" x2="56.36" y2="462.30" stroke="#111" stroke-width="0.7"/>
<line x1="58.91" y1="460.90" x2="58.91" y2="462.30" stroke="#111" stroke-width="0.7"/>
<line x1="60.89" y1="460.90" x2="60.89" y2="462.30" stroke="#111" stroke-width="0.7"/>
<line x1="62.51" y1="460.90" x2="62.51" y2="462.30" stroke="#111" stroke-width="0.7"/>
<line x1="63.88" y1="460.90" x2="63.88" y2="462.30" stroke="#111" stroke-width="0.7"/>
<line x1="65.07" y1="460.90" x2="65.07" y2="462.30" stroke="#111" stroke-width="0.7"/>
<line x1="66.11" y1="460.90" x2="66.11" y2="462.30" stroke="#111" stroke-width="0.7"/>
<line x1="67.05" y1="460.90" x2="67.05" y2="463.50" stroke="#111" stroke-width="1.0"/>
<text x="61.65" y="473.80" font-size="7.6" fill="#231f20" stroke="#231f20" stroke-width="0.12" textLength="8.40" lengthAdjust="spacingAndGlyphs">10</text>
<text x="70.35" y="470.30" font-size="5.2" fill="#231f20" stroke="#231f20" stroke-width="0.12">1</text>
<line x1="73.21" y1="460.90" x2="73.21" y2="462.30" stroke="#111" stroke-width="0.7"/>
<line x1="76.81" y1="460.90" x2="76.81" y2="462.30" stroke="#111" stroke-width="0.7"/>
<line x1="79.36" y1="460.90" x2="79.36" y2="462.30" stroke="#111" stroke-width="0.7"/>
<line x1="81.34" y1="460.90" x2="81.34" y2="462.30" stroke="#111" stroke-width="0.7"/>
<line x1="82.96" y1="460.90" x2="82.96" y2="462.30" stroke="#111" stroke-width="0.7"/>
<line x1="84.33" y1="460.90" x2="84.33" y2="462.30" stroke="#111" stroke-width="0.7"/>
<line x1="85.52" y1="460.90" x2="85.52" y2="462.30" stroke="#111" stroke-width="0.7"/>
<line x1="86.56" y1="460.90" x2="86.56" y2="462.30" stroke="#111" stroke-width="0.7"/>
<line x1="87.50" y1="460.90" x2="87.50" y2="463.50" stroke="#111" stroke-width="1.0"/>
<text x="82.10" y="473.80" font-size="7.6" fill="#231f20" stroke="#231f20" stroke-width="0.12" textLength="8.40" lengthAdjust="spacingAndGlyphs">10</text>
<text x="90.80" y="470.30" font-size="5.2" fill="#231f20" stroke="#231f20" stroke-width="0.12">2</text>
<line x1="93.66" y1="460.90" x2="93.66" y2="462.30" stroke="#111" stroke-width="0.7"/>
<line x1="97.26" y1="460.90" x2="97.26" y2="462.30" stroke="#111" stroke-width="0.7"/>
<line x1="99.81" y1="460.90" x2="99.81" y2="462.30" stroke="#111" stroke-width="0.7"/>
<line x1="101.79" y1="460.90" x2="101.79" y2="462.30" stroke="#111" stroke-width="0.7"/>
<line x1="103.41" y1="460.90" x2="103.41" y2="462.30" stroke="#111" stroke-width="0.7"/>
<line x1="104.78" y1="460.90" x2="104.78" y2="462.30" stroke="#111" stroke-width="0.7"/>
<line x1="105.97" y1="460.90" x2="105.97" y2="462.30" stroke="#111" stroke-width="0.7"/>
<line x1="107.01" y1="460.90" x2="107.01" y2="462.30" stroke="#111" stroke-width="0.7"/>
<line x1="107.95" y1="460.90" x2="107.95" y2="463.50" stroke="#111" stroke-width="1.0"/>
<text x="102.55" y="473.80" font-size="7.6" fill="#231f20" stroke="#231f20" stroke-width="0.12" textLength="8.40" lengthAdjust="spacingAndGlyphs">10</text>
<text x="111.25" y="470.30" font-size="5.2" fill="#231f20" stroke="#231f20" stroke-width="0.12">3</text>
<line x1="114.11" y1="460.90" x2="114.11" y2="462.30" stroke="#111" stroke-width="0.7"/>
<line x1="117.71" y1="460.90" x2="117.71" y2="462.30" stroke="#111" stroke-width="0.7"/>
<line x1="120.26" y1="460.90" x2="120.26" y2="462.30" stroke="#111" stroke-width="0.7"/>
<line x1="122.24" y1="460.90" x2="122.24" y2="462.30" stroke="#111" stroke-width="0.7"/>
<line x1="123.86" y1="460.90" x2="123.86" y2="462.30" stroke="#111" stroke-width="0.7"/>
<line x1="125.23" y1="460.90" x2="125.23" y2="462.30" stroke="#111" stroke-width="0.7"/>
<line x1="126.42" y1="460.90" x2="126.42" y2="462.30" stroke="#111" stroke-width="0.7"/>
<line x1="127.46" y1="460.90" x2="127.46" y2="462.30" stroke="#111" stroke-width="0.7"/>
<line x1="128.40" y1="460.90" x2="128.40" y2="463.50" stroke="#111" stroke-width="1.0"/>
<text x="123.00" y="473.80" font-size="7.6" fill="#231f20" stroke="#231f20" stroke-width="0.12" textLength="8.40" lengthAdjust="spacingAndGlyphs">10</text>
<text x="131.70" y="470.30" font-size="5.2" fill="#231f20" stroke="#231f20" stroke-width="0.12">4</text>
<text x="173.60" y="373.00" font-size="10" fill="#231f20" stroke="#231f20" stroke-width="0.12" textLength="48.40" lengthAdjust="spacingAndGlyphs">Patient #24</text>
<polygon points="157.80,460.90 157.80,460.50 158.70,459.90 161.20,459.60 163.70,458.80 166.20,458.00 168.70,456.30 170.80,454.20 172.40,452.60 174.10,450.00 175.40,448.40 176.60,446.70 177.90,446.30 179.10,446.70 180.40,445.50 181.60,443.40 182.90,440.00 183.70,436.70 184.50,432.50 185.40,427.50 186.20,423.30 186.80,420.00 187.60,413.40 188.40,403.80 189.40,392.50 190.50,388.00 191.50,388.90 192.60,393.50 193.60,400.70 194.60,408.00 195.60,417.50 196.70,428.90 198.00,438.70 199.70,448.50 201.30,453.40 203.80,457.50 206.20,459.90 209.00,460.70 209.00,460.90" fill="#cd8789" fill-opacity="0.5"/>
<polyline points="157.80,460.50 158.70,459.90 161.20,459.60 163.70,458.80 166.20,458.00 168.70,456.30 170.80,454.20 172.40,452.60 174.10,450.00 175.40,448.40 176.60,446.70 177.90,446.30 179.10,446.70 180.40,445.50 181.60,443.40 182.90,440.00 183.70,436.70 184.50,432.50 185.40,427.50 186.20,423.30 186.80,420.00 187.60,413.40 188.40,403.80 189.40,392.50 190.50,388.00 191.50,388.90 192.60,393.50 193.60,400.70 194.60,408.00 195.60,417.50 196.70,428.90 198.00,438.70 199.70,448.50 201.30,453.40 203.80,457.50 206.20,459.90 209.00,460.70" stroke="#b9143c" stroke-width="1.15" fill="none" stroke-linejoin="round"/>
<polygon points="157.80,460.90 157.80,459.00 158.30,457.60 159.50,455.90 161.20,453.80 162.80,451.70 164.10,447.50 165.30,443.40 166.60,440.00 167.90,436.70 169.10,433.80 169.90,432.50 170.80,431.70 171.60,429.20 172.40,425.80 173.30,421.70 174.10,415.00 175.30,413.40 175.80,403.80 176.90,392.70 178.10,389.50 179.20,386.80 180.40,387.90 181.20,389.10 182.00,391.10 182.80,393.10 183.20,396.70 184.00,397.50 185.00,399.40 186.00,400.50 186.80,402.00 187.60,404.00 188.40,411.00 189.20,417.00 189.90,424.00 191.50,433.80 193.20,443.60 194.80,450.10 197.20,455.00 200.50,458.30 203.80,459.90 207.00,460.70 207.00,460.90" fill="#8f9bc3" fill-opacity="0.5"/>
<polyline points="157.80,459.00 158.30,457.60 159.50,455.90 161.20,453.80 162.80,451.70 164.10,447.50 165.30,443.40 166.60,440.00 167.90,436.70 169.10,433.80 169.90,432.50 170.80,431.70 171.60,429.20 172.40,425.80 173.30,421.70 174.10,415.00 175.30,413.40 175.80,403.80 176.90,392.70 178.10,389.50 179.20,386.80 180.40,387.90 181.20,389.10 182.00,391.10 182.80,393.10 183.20,396.70 184.00,397.50 185.00,399.40 186.00,400.50 186.80,402.00 187.60,404.00 188.40,411.00 189.20,417.00 189.90,424.00 191.50,433.80 193.20,443.60 194.80,450.10 197.20,455.00 200.50,458.30 203.80,459.90 207.00,460.70" stroke="#28468c" stroke-width="1.15" fill="none" stroke-linejoin="round"/>
<polygon points="157.80,460.90 157.80,395.50 158.00,395.90 158.60,397.10 159.40,397.10 160.20,396.30 161.00,398.30 161.80,395.90 162.60,395.10 163.00,391.90 163.30,389.50 163.90,390.30 164.40,393.50 164.70,389.50 165.30,388.70 166.10,389.10 166.90,391.10 167.70,395.90 168.90,397.10 169.70,400.70 170.50,405.40 171.30,410.20 172.10,415.80 172.50,420.00 172.90,426.70 173.40,432.50 173.80,436.70 174.20,441.70 174.70,446.70 175.40,451.70 176.60,455.10 177.90,457.10 179.10,458.40 182.00,458.60 186.20,458.60 190.40,459.20 194.60,459.90 197.00,460.10 205.00,460.50 215.00,460.80 215.00,460.90" fill="#f5e19b" fill-opacity="0.5"/>
<polyline points="157.80,395.50 158.00,395.90 158.60,397.10 159.40,397.10 160.20,396.30 161.00,398.30 161.80,395.90 162.60,395.10 163.00,391.90 163.30,389.50 163.90,390.30 164.40,393.50 164.70,389.50 165.30,388.70 166.10,389.10 166.90,391.10 167.70,395.90 168.90,397.10 169.70,400.70 170.50,405.40 171.30,410.20 172.10,415.80 172.50,420.00 172.90,426.70 173.40,432.50 173.80,436.70 174.20,441.70 174.70,446.70 175.40,451.70 176.60,455.10 177.90,457.10 179.10,458.40 182.00,458.60 186.20,458.60 190.40,459.20 194.60,459.90 197.00,460.10 205.00,460.50 215.00,460.80" stroke="#e8b418" stroke-width="1.15" fill="none" stroke-linejoin="round"/>
<rect x="157.40" y="378.70" width="81.90" height="82.20" fill="none" stroke="#111" stroke-width="1.2"/>
<line x1="154.20" y1="460.90" x2="157.40" y2="460.90" stroke="#111" stroke-width="1.0"/>
<text x="151.00" y="463.65" font-size="7.8" fill="#231f20" stroke="#231f20" stroke-width="0.12" text-anchor="end" textLength="4.20" lengthAdjust="spacingAndGlyphs">0</text>
<line x1="155.90" y1="456.97" x2="157.40" y2="456.97" stroke="#111" stroke-width="0.8"/>
<line x1="155.90" y1="453.04" x2="157.40" y2="453.04" stroke="#111" stroke-width="0.8"/>
<line x1="155.90" y1="449.11" x2="157.40" y2="449.11" stroke="#111" stroke-width="0.8"/>
<line x1="154.20" y1="445.18" x2="157.40" y2="445.18" stroke="#111" stroke-width="1.0"/>
<text x="151.00" y="447.93" font-size="7.8" fill="#231f20" stroke="#231f20" stroke-width="0.12" text-anchor="end" textLength="8.40" lengthAdjust="spacingAndGlyphs">20</text>
<line x1="155.90" y1="441.25" x2="157.40" y2="441.25" stroke="#111" stroke-width="0.8"/>
<line x1="155.90" y1="437.32" x2="157.40" y2="437.32" stroke="#111" stroke-width="0.8"/>
<line x1="155.90" y1="433.39" x2="157.40" y2="433.39" stroke="#111" stroke-width="0.8"/>
<line x1="154.20" y1="429.46" x2="157.40" y2="429.46" stroke="#111" stroke-width="1.0"/>
<text x="151.00" y="432.21" font-size="7.8" fill="#231f20" stroke="#231f20" stroke-width="0.12" text-anchor="end" textLength="8.40" lengthAdjust="spacingAndGlyphs">40</text>
<line x1="155.90" y1="425.53" x2="157.40" y2="425.53" stroke="#111" stroke-width="0.8"/>
<line x1="155.90" y1="421.60" x2="157.40" y2="421.60" stroke="#111" stroke-width="0.8"/>
<line x1="155.90" y1="417.67" x2="157.40" y2="417.67" stroke="#111" stroke-width="0.8"/>
<line x1="154.20" y1="413.74" x2="157.40" y2="413.74" stroke="#111" stroke-width="1.0"/>
<text x="151.00" y="416.49" font-size="7.8" fill="#231f20" stroke="#231f20" stroke-width="0.12" text-anchor="end" textLength="8.40" lengthAdjust="spacingAndGlyphs">60</text>
<line x1="155.90" y1="409.81" x2="157.40" y2="409.81" stroke="#111" stroke-width="0.8"/>
<line x1="155.90" y1="405.88" x2="157.40" y2="405.88" stroke="#111" stroke-width="0.8"/>
<line x1="155.90" y1="401.95" x2="157.40" y2="401.95" stroke="#111" stroke-width="0.8"/>
<line x1="154.20" y1="398.02" x2="157.40" y2="398.02" stroke="#111" stroke-width="1.0"/>
<text x="151.00" y="400.77" font-size="7.8" fill="#231f20" stroke="#231f20" stroke-width="0.12" text-anchor="end" textLength="8.40" lengthAdjust="spacingAndGlyphs">80</text>
<line x1="155.90" y1="394.09" x2="157.40" y2="394.09" stroke="#111" stroke-width="0.8"/>
<line x1="155.90" y1="390.16" x2="157.40" y2="390.16" stroke="#111" stroke-width="0.8"/>
<line x1="155.90" y1="386.23" x2="157.40" y2="386.23" stroke="#111" stroke-width="0.8"/>
<line x1="154.20" y1="382.30" x2="157.40" y2="382.30" stroke="#111" stroke-width="1.0"/>
<text x="151.00" y="385.05" font-size="7.8" fill="#231f20" stroke="#231f20" stroke-width="0.12" text-anchor="end" textLength="12.60" lengthAdjust="spacingAndGlyphs">100</text>
<line x1="157.40" y1="460.90" x2="157.40" y2="463.50" stroke="#111" stroke-width="1.0"/>
<text x="152.00" y="473.80" font-size="7.6" fill="#231f20" stroke="#231f20" stroke-width="0.12" textLength="8.40" lengthAdjust="spacingAndGlyphs">10</text>
<text x="160.70" y="470.30" font-size="5.2" fill="#231f20" stroke="#231f20" stroke-width="0.12">0</text>
<line x1="163.56" y1="460.90" x2="163.56" y2="462.30" stroke="#111" stroke-width="0.7"/>
<line x1="167.16" y1="460.90" x2="167.16" y2="462.30" stroke="#111" stroke-width="0.7"/>
<line x1="169.71" y1="460.90" x2="169.71" y2="462.30" stroke="#111" stroke-width="0.7"/>
<line x1="171.69" y1="460.90" x2="171.69" y2="462.30" stroke="#111" stroke-width="0.7"/>
<line x1="173.31" y1="460.90" x2="173.31" y2="462.30" stroke="#111" stroke-width="0.7"/>
<line x1="174.68" y1="460.90" x2="174.68" y2="462.30" stroke="#111" stroke-width="0.7"/>
<line x1="175.87" y1="460.90" x2="175.87" y2="462.30" stroke="#111" stroke-width="0.7"/>
<line x1="176.91" y1="460.90" x2="176.91" y2="462.30" stroke="#111" stroke-width="0.7"/>
<line x1="177.85" y1="460.90" x2="177.85" y2="463.50" stroke="#111" stroke-width="1.0"/>
<text x="172.45" y="473.80" font-size="7.6" fill="#231f20" stroke="#231f20" stroke-width="0.12" textLength="8.40" lengthAdjust="spacingAndGlyphs">10</text>
<text x="181.15" y="470.30" font-size="5.2" fill="#231f20" stroke="#231f20" stroke-width="0.12">1</text>
<line x1="184.01" y1="460.90" x2="184.01" y2="462.30" stroke="#111" stroke-width="0.7"/>
<line x1="187.61" y1="460.90" x2="187.61" y2="462.30" stroke="#111" stroke-width="0.7"/>
<line x1="190.16" y1="460.90" x2="190.16" y2="462.30" stroke="#111" stroke-width="0.7"/>
<line x1="192.14" y1="460.90" x2="192.14" y2="462.30" stroke="#111" stroke-width="0.7"/>
<line x1="193.76" y1="460.90" x2="193.76" y2="462.30" stroke="#111" stroke-width="0.7"/>
<line x1="195.13" y1="460.90" x2="195.13" y2="462.30" stroke="#111" stroke-width="0.7"/>
<line x1="196.32" y1="460.90" x2="196.32" y2="462.30" stroke="#111" stroke-width="0.7"/>
<line x1="197.36" y1="460.90" x2="197.36" y2="462.30" stroke="#111" stroke-width="0.7"/>
<line x1="198.30" y1="460.90" x2="198.30" y2="463.50" stroke="#111" stroke-width="1.0"/>
<text x="192.90" y="473.80" font-size="7.6" fill="#231f20" stroke="#231f20" stroke-width="0.12" textLength="8.40" lengthAdjust="spacingAndGlyphs">10</text>
<text x="201.60" y="470.30" font-size="5.2" fill="#231f20" stroke="#231f20" stroke-width="0.12">2</text>
<line x1="204.46" y1="460.90" x2="204.46" y2="462.30" stroke="#111" stroke-width="0.7"/>
<line x1="208.06" y1="460.90" x2="208.06" y2="462.30" stroke="#111" stroke-width="0.7"/>
<line x1="210.61" y1="460.90" x2="210.61" y2="462.30" stroke="#111" stroke-width="0.7"/>
<line x1="212.59" y1="460.90" x2="212.59" y2="462.30" stroke="#111" stroke-width="0.7"/>
<line x1="214.21" y1="460.90" x2="214.21" y2="462.30" stroke="#111" stroke-width="0.7"/>
<line x1="215.58" y1="460.90" x2="215.58" y2="462.30" stroke="#111" stroke-width="0.7"/>
<line x1="216.77" y1="460.90" x2="216.77" y2="462.30" stroke="#111" stroke-width="0.7"/>
<line x1="217.81" y1="460.90" x2="217.81" y2="462.30" stroke="#111" stroke-width="0.7"/>
<line x1="218.75" y1="460.90" x2="218.75" y2="463.50" stroke="#111" stroke-width="1.0"/>
<text x="213.35" y="473.80" font-size="7.6" fill="#231f20" stroke="#231f20" stroke-width="0.12" textLength="8.40" lengthAdjust="spacingAndGlyphs">10</text>
<text x="222.05" y="470.30" font-size="5.2" fill="#231f20" stroke="#231f20" stroke-width="0.12">3</text>
<line x1="224.91" y1="460.90" x2="224.91" y2="462.30" stroke="#111" stroke-width="0.7"/>
<line x1="228.51" y1="460.90" x2="228.51" y2="462.30" stroke="#111" stroke-width="0.7"/>
<line x1="231.06" y1="460.90" x2="231.06" y2="462.30" stroke="#111" stroke-width="0.7"/>
<line x1="233.04" y1="460.90" x2="233.04" y2="462.30" stroke="#111" stroke-width="0.7"/>
<line x1="234.66" y1="460.90" x2="234.66" y2="462.30" stroke="#111" stroke-width="0.7"/>
<line x1="236.03" y1="460.90" x2="236.03" y2="462.30" stroke="#111" stroke-width="0.7"/>
<line x1="237.22" y1="460.90" x2="237.22" y2="462.30" stroke="#111" stroke-width="0.7"/>
<line x1="238.26" y1="460.90" x2="238.26" y2="462.30" stroke="#111" stroke-width="0.7"/>
<line x1="239.20" y1="460.90" x2="239.20" y2="463.50" stroke="#111" stroke-width="1.0"/>
<text x="233.80" y="473.80" font-size="7.6" fill="#231f20" stroke="#231f20" stroke-width="0.12" textLength="8.40" lengthAdjust="spacingAndGlyphs">10</text>
<text x="242.50" y="470.30" font-size="5.2" fill="#231f20" stroke="#231f20" stroke-width="0.12">4</text>
<text x="284.40" y="373.00" font-size="10" fill="#231f20" stroke="#231f20" stroke-width="0.12" textLength="48.40" lengthAdjust="spacingAndGlyphs">Patient #28</text>
<polygon points="268.30,460.90 268.30,460.60 268.70,460.50 271.20,459.90 273.70,459.20 276.20,458.80 278.70,458.60 281.20,458.40 283.70,458.00 285.40,457.10 287.00,455.90 288.70,454.20 290.40,452.60 292.00,450.90 293.70,448.80 295.00,446.30 296.20,443.40 297.10,440.00 297.90,435.90 298.70,430.90 299.60,425.80 300.20,418.00 300.80,405.00 301.60,397.50 302.50,392.50 303.30,387.50 304.10,384.80 305.00,385.80 305.80,386.30 306.60,387.10 307.50,389.00 308.60,396.30 309.40,399.60 310.70,411.00 311.90,420.80 313.00,430.60 314.30,440.40 315.90,448.50 317.60,453.40 320.00,457.50 323.30,459.60 330.60,460.30 340.00,460.60 340.00,460.90" fill="#cd8789" fill-opacity="0.5"/>
<polyline points="268.30,460.60 268.70,460.50 271.20,459.90 273.70,459.20 276.20,458.80 278.70,458.60 281.20,458.40 283.70,458.00 285.40,457.10 287.00,455.90 288.70,454.20 290.40,452.60 292.00,450.90 293.70,448.80 295.00,446.30 296.20,443.40 297.10,440.00 297.90,435.90 298.70,430.90 299.60,425.80 300.20,418.00 300.80,405.00 301.60,397.50 302.50,392.50 303.30,387.50 304.10,384.80 305.00,385.80 305.80,386.30 306.60,387.10 307.50,389.00 308.60,396.30 309.40,399.60 310.70,411.00 311.90,420.80 313.00,430.60 314.30,440.40 315.90,448.50 317.60,453.40 320.00,457.50 323.30,459.60 330.60,460.30 340.00,460.60" stroke="#b9143c" stroke-width="1.15" fill="none" stroke-linejoin="round"/>
<polygon points="268.30,460.90 268.30,459.50 269.10,458.40 270.30,456.70 271.60,455.10 272.80,454.20 274.10,451.70 275.30,449.20 276.60,446.70 277.40,443.40 278.70,439.20 279.50,435.00 280.80,432.50 281.60,430.00 282.40,426.70 283.30,422.50 284.10,419.00 284.90,414.20 286.20,406.70 287.00,403.00 287.90,402.10 288.70,399.20 289.40,395.90 290.00,397.90 290.80,397.50 291.40,395.00 292.00,397.50 292.90,398.40 293.70,399.20 294.50,395.90 295.40,392.50 296.20,390.00 296.90,387.50 297.70,386.30 298.30,384.60 298.70,385.80 299.40,390.90 300.00,396.70 300.60,402.50 301.20,409.20 301.90,416.00 302.40,422.00 302.80,430.00 303.40,439.00 304.30,447.00 305.50,452.50 306.50,455.50 308.60,458.30 311.90,459.90 315.00,460.60 315.00,460.90" fill="#8f9bc3" fill-opacity="0.5"/>
<polyline points="268.30,459.50 269.10,458.40 270.30,456.70 271.60,455.10 272.80,454.20 274.10,451.70 275.30,449.20 276.60,446.70 277.40,443.40 278.70,439.20 279.50,435.00 280.80,432.50 281.60,430.00 282.40,426.70 283.30,422.50 284.10,419.00 284.90,414.20 286.20,406.70 287.00,403.00 287.90,402.10 288.70,399.20 289.40,395.90 290.00,397.90 290.80,397.50 291.40,395.00 292.00,397.50 292.90,398.40 293.70,399.20 294.50,395.90 295.40,392.50 296.20,390.00 296.90,387.50 297.70,386.30 298.30,384.60 298.70,385.80 299.40,390.90 300.00,396.70 300.60,402.50 301.20,409.20 301.90,416.00 302.40,422.00 302.80,430.00 303.40,439.00 304.30,447.00 305.50,452.50 306.50,455.50 308.60,458.30 311.90,459.90 315.00,460.60" stroke="#28468c" stroke-width="1.15" fill="none" stroke-linejoin="round"/>
<polygon points="268.20,460.90 268.20,391.50 268.70,391.70 269.50,392.50 270.30,391.70 271.60,390.90 272.40,390.40 273.30,388.30 273.80,385.80 274.50,387.10 274.90,389.20 275.80,388.80 276.60,389.60 277.40,391.70 278.30,392.90 279.40,394.60 279.90,397.50 280.80,402.50 281.60,407.50 282.40,413.40 283.10,419.50 283.40,425.00 283.70,430.00 284.10,435.00 284.70,440.90 285.40,446.70 286.20,451.70 287.20,455.10 288.50,457.60 290.40,458.80 293.70,459.40 297.90,459.90 302.10,460.20 307.00,460.50 315.00,460.70 315.00,460.90" fill="#f5e19b" fill-opacity="0.5"/>
<polyline points="268.20,391.50 268.70,391.70 269.50,392.50 270.30,391.70 271.60,390.90 272.40,390.40 273.30,388.30 273.80,385.80 274.50,387.10 274.90,389.20 275.80,388.80 276.60,389.60 277.40,391.70 278.30,392.90 279.40,394.60 279.90,397.50 280.80,402.50 281.60,407.50 282.40,413.40 283.10,419.50 283.40,425.00 283.70,430.00 284.10,435.00 284.70,440.90 285.40,446.70 286.20,451.70 287.20,455.10 288.50,457.60 290.40,458.80 293.70,459.40 297.90,459.90 302.10,460.20 307.00,460.50 315.00,460.70" stroke="#e8b418" stroke-width="1.15" fill="none" stroke-linejoin="round"/>
<rect x="267.80" y="378.70" width="81.90" height="82.20" fill="none" stroke="#111" stroke-width="1.2"/>
<line x1="264.60" y1="460.90" x2="267.80" y2="460.90" stroke="#111" stroke-width="1.0"/>
<text x="261.40" y="463.65" font-size="7.8" fill="#231f20" stroke="#231f20" stroke-width="0.12" text-anchor="end" textLength="4.20" lengthAdjust="spacingAndGlyphs">0</text>
<line x1="266.30" y1="456.97" x2="267.80" y2="456.97" stroke="#111" stroke-width="0.8"/>
<line x1="266.30" y1="453.04" x2="267.80" y2="453.04" stroke="#111" stroke-width="0.8"/>
<line x1="266.30" y1="449.11" x2="267.80" y2="449.11" stroke="#111" stroke-width="0.8"/>
<line x1="264.60" y1="445.18" x2="267.80" y2="445.18" stroke="#111" stroke-width="1.0"/>
<text x="261.40" y="447.93" font-size="7.8" fill="#231f20" stroke="#231f20" stroke-width="0.12" text-anchor="end" textLength="8.40" lengthAdjust="spacingAndGlyphs">20</text>
<line x1="266.30" y1="441.25" x2="267.80" y2="441.25" stroke="#111" stroke-width="0.8"/>
<line x1="266.30" y1="437.32" x2="267.80" y2="437.32" stroke="#111" stroke-width="0.8"/>
<line x1="266.30" y1="433.39" x2="267.80" y2="433.39" stroke="#111" stroke-width="0.8"/>
<line x1="264.60" y1="429.46" x2="267.80" y2="429.46" stroke="#111" stroke-width="1.0"/>
<text x="261.40" y="432.21" font-size="7.8" fill="#231f20" stroke="#231f20" stroke-width="0.12" text-anchor="end" textLength="8.40" lengthAdjust="spacingAndGlyphs">40</text>
<line x1="266.30" y1="425.53" x2="267.80" y2="425.53" stroke="#111" stroke-width="0.8"/>
<line x1="266.30" y1="421.60" x2="267.80" y2="421.60" stroke="#111" stroke-width="0.8"/>
<line x1="266.30" y1="417.67" x2="267.80" y2="417.67" stroke="#111" stroke-width="0.8"/>
<line x1="264.60" y1="413.74" x2="267.80" y2="413.74" stroke="#111" stroke-width="1.0"/>
<text x="261.40" y="416.49" font-size="7.8" fill="#231f20" stroke="#231f20" stroke-width="0.12" text-anchor="end" textLength="8.40" lengthAdjust="spacingAndGlyphs">60</text>
<line x1="266.30" y1="409.81" x2="267.80" y2="409.81" stroke="#111" stroke-width="0.8"/>
<line x1="266.30" y1="405.88" x2="267.80" y2="405.88" stroke="#111" stroke-width="0.8"/>
<line x1="266.30" y1="401.95" x2="267.80" y2="401.95" stroke="#111" stroke-width="0.8"/>
<line x1="264.60" y1="398.02" x2="267.80" y2="398.02" stroke="#111" stroke-width="1.0"/>
<text x="261.40" y="400.77" font-size="7.8" fill="#231f20" stroke="#231f20" stroke-width="0.12" text-anchor="end" textLength="8.40" lengthAdjust="spacingAndGlyphs">80</text>
<line x1="266.30" y1="394.09" x2="267.80" y2="394.09" stroke="#111" stroke-width="0.8"/>
<line x1="266.30" y1="390.16" x2="267.80" y2="390.16" stroke="#111" stroke-width="0.8"/>
<line x1="266.30" y1="386.23" x2="267.80" y2="386.23" stroke="#111" stroke-width="0.8"/>
<line x1="264.60" y1="382.30" x2="267.80" y2="382.30" stroke="#111" stroke-width="1.0"/>
<text x="261.40" y="385.05" font-size="7.8" fill="#231f20" stroke="#231f20" stroke-width="0.12" text-anchor="end" textLength="12.60" lengthAdjust="spacingAndGlyphs">100</text>
<line x1="267.80" y1="460.90" x2="267.80" y2="463.50" stroke="#111" stroke-width="1.0"/>
<text x="262.40" y="473.80" font-size="7.6" fill="#231f20" stroke="#231f20" stroke-width="0.12" textLength="8.40" lengthAdjust="spacingAndGlyphs">10</text>
<text x="271.10" y="470.30" font-size="5.2" fill="#231f20" stroke="#231f20" stroke-width="0.12">0</text>
<line x1="273.96" y1="460.90" x2="273.96" y2="462.30" stroke="#111" stroke-width="0.7"/>
<line x1="277.56" y1="460.90" x2="277.56" y2="462.30" stroke="#111" stroke-width="0.7"/>
<line x1="280.11" y1="460.90" x2="280.11" y2="462.30" stroke="#111" stroke-width="0.7"/>
<line x1="282.09" y1="460.90" x2="282.09" y2="462.30" stroke="#111" stroke-width="0.7"/>
<line x1="283.71" y1="460.90" x2="283.71" y2="462.30" stroke="#111" stroke-width="0.7"/>
<line x1="285.08" y1="460.90" x2="285.08" y2="462.30" stroke="#111" stroke-width="0.7"/>
<line x1="286.27" y1="460.90" x2="286.27" y2="462.30" stroke="#111" stroke-width="0.7"/>
<line x1="287.31" y1="460.90" x2="287.31" y2="462.30" stroke="#111" stroke-width="0.7"/>
<line x1="288.25" y1="460.90" x2="288.25" y2="463.50" stroke="#111" stroke-width="1.0"/>
<text x="282.85" y="473.80" font-size="7.6" fill="#231f20" stroke="#231f20" stroke-width="0.12" textLength="8.40" lengthAdjust="spacingAndGlyphs">10</text>
<text x="291.55" y="470.30" font-size="5.2" fill="#231f20" stroke="#231f20" stroke-width="0.12">1</text>
<line x1="294.41" y1="460.90" x2="294.41" y2="462.30" stroke="#111" stroke-width="0.7"/>
<line x1="298.01" y1="460.90" x2="298.01" y2="462.30" stroke="#111" stroke-width="0.7"/>
<line x1="300.56" y1="460.90" x2="300.56" y2="462.30" stroke="#111" stroke-width="0.7"/>
<line x1="302.54" y1="460.90" x2="302.54" y2="462.30" stroke="#111" stroke-width="0.7"/>
<line x1="304.16" y1="460.90" x2="304.16" y2="462.30" stroke="#111" stroke-width="0.7"/>
<line x1="305.53" y1="460.90" x2="305.53" y2="462.30" stroke="#111" stroke-width="0.7"/>
<line x1="306.72" y1="460.90" x2="306.72" y2="462.30" stroke="#111" stroke-width="0.7"/>
<line x1="307.76" y1="460.90" x2="307.76" y2="462.30" stroke="#111" stroke-width="0.7"/>
<line x1="308.70" y1="460.90" x2="308.70" y2="463.50" stroke="#111" stroke-width="1.0"/>
<text x="303.30" y="473.80" font-size="7.6" fill="#231f20" stroke="#231f20" stroke-width="0.12" textLength="8.40" lengthAdjust="spacingAndGlyphs">10</text>
<text x="312.00" y="470.30" font-size="5.2" fill="#231f20" stroke="#231f20" stroke-width="0.12">2</text>
<line x1="314.86" y1="460.90" x2="314.86" y2="462.30" stroke="#111" stroke-width="0.7"/>
<line x1="318.46" y1="460.90" x2="318.46" y2="462.30" stroke="#111" stroke-width="0.7"/>
<line x1="321.01" y1="460.90" x2="321.01" y2="462.30" stroke="#111" stroke-width="0.7"/>
<line x1="322.99" y1="460.90" x2="322.99" y2="462.30" stroke="#111" stroke-width="0.7"/>
<line x1="324.61" y1="460.90" x2="324.61" y2="462.30" stroke="#111" stroke-width="0.7"/>
<line x1="325.98" y1="460.90" x2="325.98" y2="462.30" stroke="#111" stroke-width="0.7"/>
<line x1="327.17" y1="460.90" x2="327.17" y2="462.30" stroke="#111" stroke-width="0.7"/>
<line x1="328.21" y1="460.90" x2="328.21" y2="462.30" stroke="#111" stroke-width="0.7"/>
<line x1="329.15" y1="460.90" x2="329.15" y2="463.50" stroke="#111" stroke-width="1.0"/>
<text x="323.75" y="473.80" font-size="7.6" fill="#231f20" stroke="#231f20" stroke-width="0.12" textLength="8.40" lengthAdjust="spacingAndGlyphs">10</text>
<text x="332.45" y="470.30" font-size="5.2" fill="#231f20" stroke="#231f20" stroke-width="0.12">3</text>
<line x1="335.31" y1="460.90" x2="335.31" y2="462.30" stroke="#111" stroke-width="0.7"/>
<line x1="338.91" y1="460.90" x2="338.91" y2="462.30" stroke="#111" stroke-width="0.7"/>
<line x1="341.46" y1="460.90" x2="341.46" y2="462.30" stroke="#111" stroke-width="0.7"/>
<line x1="343.44" y1="460.90" x2="343.44" y2="462.30" stroke="#111" stroke-width="0.7"/>
<line x1="345.06" y1="460.90" x2="345.06" y2="462.30" stroke="#111" stroke-width="0.7"/>
<line x1="346.43" y1="460.90" x2="346.43" y2="462.30" stroke="#111" stroke-width="0.7"/>
<line x1="347.62" y1="460.90" x2="347.62" y2="462.30" stroke="#111" stroke-width="0.7"/>
<line x1="348.66" y1="460.90" x2="348.66" y2="462.30" stroke="#111" stroke-width="0.7"/>
<line x1="349.60" y1="460.90" x2="349.60" y2="463.50" stroke="#111" stroke-width="1.0"/>
<text x="344.20" y="473.80" font-size="7.6" fill="#231f20" stroke="#231f20" stroke-width="0.12" textLength="8.40" lengthAdjust="spacingAndGlyphs">10</text>
<text x="352.90" y="470.30" font-size="5.2" fill="#231f20" stroke="#231f20" stroke-width="0.12">4</text>
<line x1="20.60" y1="381.50" x2="20.60" y2="482.40" stroke="#333" stroke-width="1.0"/>
<polygon points="20.60,378.60 18.60,384.00 22.60,384.00" fill="#111"/>
<line x1="20.60" y1="482.40" x2="346.00" y2="482.40" stroke="#333" stroke-width="1.0"/>
<polygon points="350.20,482.40 344.20,480.40 344.20,484.40" fill="#111"/>
<text x="15.10" y="420.00" font-size="9.6" fill="#231f20" stroke="#231f20" stroke-width="0.12" text-anchor="middle" textLength="33.20" lengthAdjust="spacingAndGlyphs" transform="rotate(-90 15.10 420.00)">Cell count</text>
<text x="173.20" y="492.90" font-size="9.2" fill="#231f20" stroke="#231f20" stroke-width="0.12" textLength="50.10" lengthAdjust="spacingAndGlyphs">Anti-pSTAT3-PE</text>
<text x="359.80" y="435.60" font-size="7.8" fill="#e3a23a" stroke="#e3a23a" stroke-width="0.12" textLength="26.40" lengthAdjust="spacingAndGlyphs">Isotype</text>
<text x="359.80" y="447.10" font-size="7.8" fill="#b0173f" stroke="#b0173f" stroke-width="0.12" textLength="49.80" lengthAdjust="spacingAndGlyphs">Pre-treatment</text>
<text x="359.80" y="458.70" font-size="7.8" fill="#3b5a98" stroke="#3b5a98" stroke-width="0.12" textLength="54.00" lengthAdjust="spacingAndGlyphs">Post-treatment</text>
<text x="359.50" y="267.90" font-size="12" fill="#000" textLength="8.00" lengthAdjust="spacingAndGlyphs" font-weight="bold">C</text>
<line x1="388.50" y1="275.40" x2="388.50" y2="401.90" stroke="#111" stroke-width="1.2"/>
<line x1="387.90" y1="401.30" x2="512.80" y2="401.30" stroke="#111" stroke-width="1.2"/>
<line x1="385.60" y1="401.20" x2="388.50" y2="401.20" stroke="#111" stroke-width="1.0"/>
<text x="382.60" y="404.20" font-size="8.4" fill="#231f20" stroke="#231f20" stroke-width="0.12" text-anchor="end" textLength="4.50" lengthAdjust="spacingAndGlyphs">0</text>
<line x1="385.60" y1="370.40" x2="388.50" y2="370.40" stroke="#111" stroke-width="1.0"/>
<text x="382.60" y="373.40" font-size="8.4" fill="#231f20" stroke="#231f20" stroke-width="0.12" text-anchor="end" textLength="9.00" lengthAdjust="spacingAndGlyphs">10</text>
<line x1="385.60" y1="339.60" x2="388.50" y2="339.60" stroke="#111" stroke-width="1.0"/>
<text x="382.60" y="342.60" font-size="8.4" fill="#231f20" stroke="#231f20" stroke-width="0.12" text-anchor="end" textLength="9.00" lengthAdjust="spacingAndGlyphs">20</text>
<line x1="385.60" y1="308.80" x2="388.50" y2="308.80" stroke="#111" stroke-width="1.0"/>
<text x="382.60" y="311.80" font-size="8.4" fill="#231f20" stroke="#231f20" stroke-width="0.12" text-anchor="end" textLength="9.00" lengthAdjust="spacingAndGlyphs">30</text>
<line x1="385.60" y1="278.00" x2="388.50" y2="278.00" stroke="#111" stroke-width="1.0"/>
<text x="382.60" y="281.00" font-size="8.4" fill="#231f20" stroke="#231f20" stroke-width="0.12" text-anchor="end" textLength="9.00" lengthAdjust="spacingAndGlyphs">40</text>
<line x1="419.40" y1="401.30" x2="419.40" y2="403.60" stroke="#111" stroke-width="1.0"/>
<line x1="481.40" y1="401.30" x2="481.40" y2="403.60" stroke="#111" stroke-width="1.0"/>
<text x="419.40" y="414.10" font-size="8" fill="#231f20" stroke="#231f20" stroke-width="0.12" text-anchor="middle" textLength="14.40" lengthAdjust="spacingAndGlyphs">Pre-</text>
<text x="481.40" y="414.10" font-size="8" fill="#231f20" stroke="#231f20" stroke-width="0.12" text-anchor="middle" textLength="18.50" lengthAdjust="spacingAndGlyphs">Post-</text>
<text x="405.80" y="427.60" font-size="9.9" fill="#231f20" stroke="#231f20" stroke-width="0.12" textLength="90.00" lengthAdjust="spacingAndGlyphs">Treatment of cirmtuzumab</text>
<text x="366.00" y="337.90" font-size="7.8" fill="#231f20" stroke="#231f20" stroke-width="0.12" text-anchor="middle" textLength="34.10" lengthAdjust="spacingAndGlyphs" transform="rotate(-90 366.00 337.90)">IL-6 pg/ml</text>
<text x="435.00" y="284.60" font-size="8" fill="#231f20" stroke="#231f20" stroke-width="0.12" textLength="30.00" lengthAdjust="spacingAndGlyphs">p = 0.02</text>
<line x1="419.40" y1="302.00" x2="481.40" y2="320.90" stroke="#a8123a" stroke-width="1.4"/>
<line x1="419.40" y1="317.60" x2="481.40" y2="376.80" stroke="#a8123a" stroke-width="1.4"/>
<line x1="419.40" y1="375.60" x2="481.40" y2="397.60" stroke="#a8123a" stroke-width="1.4"/>
<line x1="419.40" y1="377.80" x2="481.40" y2="399.50" stroke="#a8123a" stroke-width="1.4"/>
<line x1="419.40" y1="384.00" x2="481.40" y2="400.50" stroke="#a8123a" stroke-width="1.4"/>
<circle cx="419.4" cy="302.00" r="2.3" fill="#a8123a"/>
<rect x="479.10" y="318.60" width="4.60" height="4.60" fill="#a8123a"/>
<circle cx="419.4" cy="317.60" r="2.3" fill="#a8123a"/>
<rect x="479.10" y="374.50" width="4.60" height="4.60" fill="#a8123a"/>
<circle cx="419.4" cy="375.60" r="2.3" fill="#a8123a"/>
<rect x="479.10" y="395.30" width="4.60" height="4.60" fill="#a8123a"/>
<circle cx="419.4" cy="377.80" r="2.3" fill="#a8123a"/>
<rect x="479.10" y="397.20" width="4.60" height="4.60" fill="#a8123a"/>
<circle cx="419.4" cy="384.00" r="2.3" fill="#a8123a"/>
<rect x="479.10" y="398.20" width="4.60" height="4.60" fill="#a8123a"/>
<rect x="0.5" y="0.5" width="519" height="502" fill="none" stroke="#000" stroke-width="1.2"/>
</svg>
</body></html>
